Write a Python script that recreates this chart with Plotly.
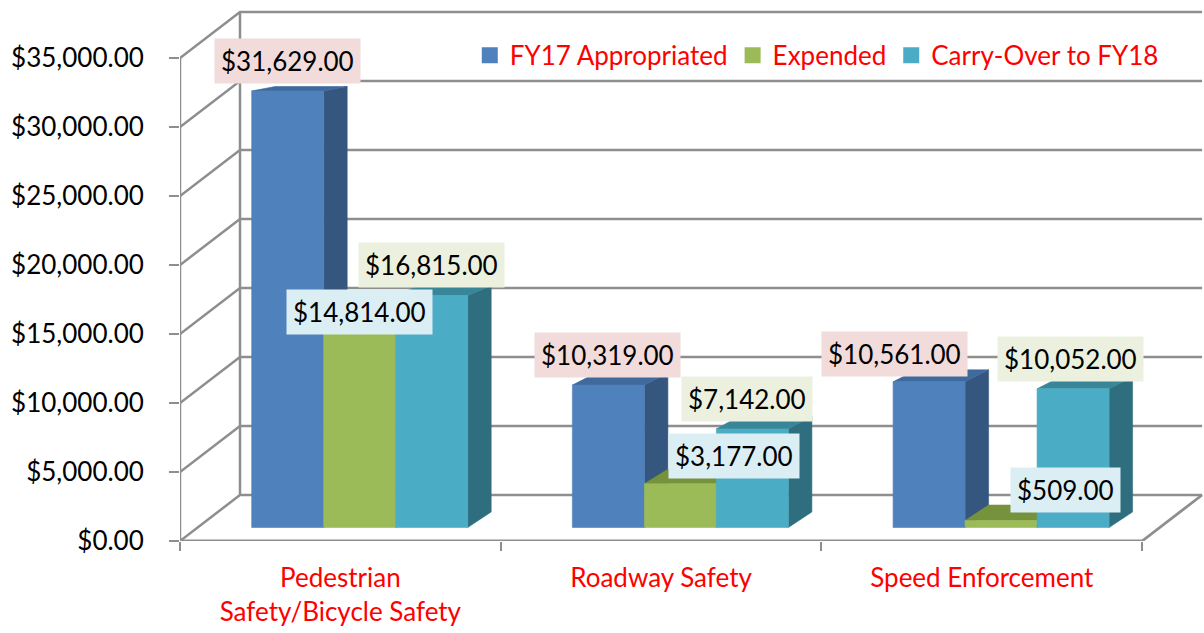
import plotly.graph_objects as go

# ---------------- data ----------------
categories = ["Pedestrian<br>Safety/Bicycle Safety", "Roadway Safety", "Speed Enforcement"]
series_names = ["FY17 Appropriated", "Expended", "Carry-Over to FY18"]
fy17_appropriated = [31629, 10319, 10561]
expended = [14814, 3177, 509]
carry_over = [16815, 7142, 10052]
y_tick_values = [0, 5000, 10000, 15000, 20000, 25000, 30000, 35000]

# ---------------- style ----------------
FONT = "Lato"
front_colors = ["#4F81BD", "#9BBB59", "#4BACC6"]
side_colors = ["#34567F", "#6E8739", "#2F6E7E"]
top_colors = ["#3F6A9E", "#76923C", "#3A8699"]
label_bg = ["#F2DCDB", "#DBEEF4", "#EBF1DE"]
# label offsets in pixels (x shift, height above bar front top)
label_xshift = [[0, -1, -35], [0, 54, 64], [0, -5, -3]]
label_above = [[30, 30, 28], [11, 28, 30], [30, 30, 30]]
GRID = "#8E8E8E"

PX_PER_CAT = 320.7          # pixels per category unit
PX_PER_VAL = 0.0138         # pixels per dollar
WALL_DX = 60 / PX_PER_CAT
WALL_DY = 46 / PX_PER_VAL
BAR_X0 = 0.2235
BAR_W = 72 / PX_PER_CAT
BAR_DX = 23.5 / PX_PER_CAT
BAR_BASE = 13.5 / PX_PER_VAL
BAR_DY_BOTTOM = 15.6 / PX_PER_VAL


def bar_top_dy(v):
    return (15.6 - v * 0.00035) / PX_PER_VAL


W, H = 1204, 633
ML, MR, MT, MB = 180, 0, 5, 92
x_max = (W - ML - MR) / PX_PER_CAT
y_max = (H - MT - MB) / PX_PER_VAL
n_cat = len(categories)

fig = go.Figure()


def line(xs, ys, width=2.5, color=GRID):
    fig.add_trace(go.Scatter(x=xs, y=ys, mode="lines", line=dict(color=color, width=width),
                             hoverinfo="skip", showlegend=False))


def poly(xs, ys, color):
    fig.add_trace(go.Scatter(x=xs + [xs[0]], y=ys + [ys[0]], mode="lines", fill="toself",
                             fillcolor=color, line=dict(color=color, width=0.6),
                             hoverinfo="skip", showlegend=False))


# walls / floor gridlines
top_tick = y_tick_values[-1]
for t in y_tick_values:
    line([0, WALL_DX, n_cat + WALL_DX], [t, t + WALL_DY, t + WALL_DY])
line([WALL_DX, WALL_DX], [WALL_DY, top_tick + WALL_DY])
line([0, 0], [0, top_tick])
line([0, n_cat, n_cat + WALL_DX], [0, 0, WALL_DY], width=2.8)

# bars (left to right within each category)
series = [fy17_appropriated, expended, carry_over]
annotations = []
for c in range(n_cat):
    for s, vals in enumerate(series):
        v = vals[c]
        xl = c + BAR_X0 + s * BAR_W
        xr = xl + BAR_W
        y0 = BAR_BASE
        y1 = BAR_BASE + v
        dyt = bar_top_dy(v)
        # side face
        poly([xr, xr + BAR_DX, xr + BAR_DX, xr],
             [y0, y0 + BAR_DY_BOTTOM, y1 + dyt, y1], side_colors[s])
        # top face
        poly([xl, xr, xr + BAR_DX, xl + BAR_DX],
             [y1, y1, y1 + dyt, y1 + dyt], top_colors[s])
        # front face
        poly([xl, xr, xr, xl], [y0, y0, y1, y1], front_colors[s])
        annotations.append(dict(
            x=(xl + xr) / 2, y=y1, xref="x", yref="y",
            text="${:,.2f}".format(v), showarrow=False,
            xanchor="center", yanchor="middle",
            xshift=label_xshift[s][c], yshift=label_above[s][c],
            bgcolor=label_bg[s], borderpad=6,
            font=dict(family=FONT, size=26, color="#000000")))

# legend entries
for s, name in enumerate(series_names):
    fig.add_trace(go.Scatter(x=[None], y=[None], mode="markers", name=name,
                             marker=dict(symbol="square", size=16, color=front_colors[s])))

fig.update_layout(
    width=W, height=H,
    margin=dict(l=ML, r=MR, t=MT, b=MB),
    paper_bgcolor="white", plot_bgcolor="white",
    font=dict(family=FONT, size=26, color="#000000"),
    annotations=annotations,
    legend=dict(orientation="h", x=0.283, xanchor="left", y=0.95, yanchor="top",
                font=dict(family=FONT, size=26, color="#FF0000"),
                bgcolor="rgba(0,0,0,0)", itemsizing="trace"),
    xaxis=dict(range=[0, x_max], tickvals=[c + 0.5 for c in range(n_cat)], ticktext=categories,
               ticks="", showgrid=False, zeroline=False, showline=False,
               tickfont=dict(family=FONT, size=26, color="#FF0000"),
               ticklabelstandoff=19,
               minor=dict(ticks="outside", ticklen=9, tickwidth=2, tickcolor=GRID,
                          tick0=0, dtick=1, showgrid=False)),
    yaxis=dict(range=[0, y_max], tickvals=y_tick_values, tickformat="$,.2f",
               ticks="outside", ticklen=10, tickwidth=2, tickcolor=GRID,
               showgrid=False, zeroline=False, showline=False,
               tickfont=dict(family=FONT, size=26, color="#000000"),
               ticklabelstandoff=20),
)

fig.write_html("out.html", config={"displayModeBar": False},
               post_script="document.body.style.margin='0';")
